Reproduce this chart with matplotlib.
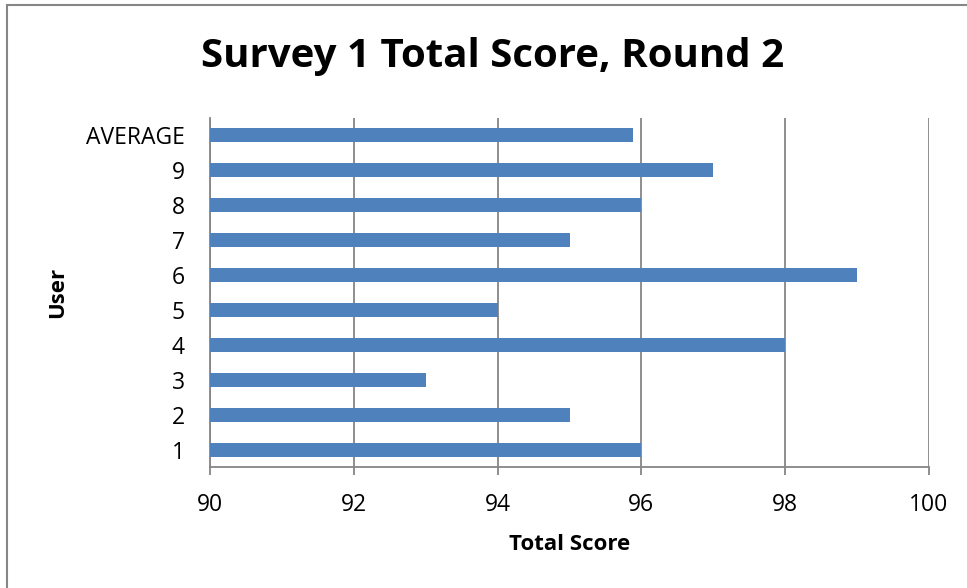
import matplotlib
matplotlib.use("Agg")
import matplotlib.pyplot as plt
from matplotlib.patches import Rectangle

categories = ["1", "2", "3", "4", "5", "6", "7", "8", "9", "AVERAGE"]
scores = [96, 95, 93, 98, 94, 99, 95, 96, 97, 95.89]
xticks = [90, 92, 94, 96, 98, 100]

plt.rcParams['font.family'] = ['Open Sans', 'DejaVu Sans']

W, H = 967, 588
fig = plt.figure(figsize=(W/100, H/100), dpi=100)
ax = fig.add_axes([210/W, 1-467/H, (929-210)/W, (467-118)/H])

y = range(len(categories))
ax.barh(y, scores, height=0.4, left=0, color="#4F81BD", zorder=3)
ax.set_xlim(90, 100)
ax.set_ylim(-0.5, len(categories)-0.5)
ax.set_xticks(xticks)
ax.set_xticklabels([str(t) for t in xticks], fontsize=16.5)
ax.set_yticks(list(y))
ax.set_yticklabels(categories, fontsize=16.5)
ax.xaxis.grid(True, color="#868686", linewidth=1.3, zorder=0)
for s in ["top", "right"]:
    ax.spines[s].set_visible(False)
ax.spines["left"].set_color("#868686")
ax.spines["bottom"].set_color("#868686")
ax.spines["left"].set_linewidth(1.3)
ax.spines["bottom"].set_linewidth(1.3)
ax.tick_params(axis="x", length=6, color="#868686", width=1.3, pad=13)
ax.tick_params(axis="y", length=0, pad=18)
ax.set_xlabel("Total Score", fontsize=16, fontweight="bold", va="center", ha="center")
ax.xaxis.set_label_coords(0.5, (467-545)/349)
ax.set_ylabel("User", fontsize=16, fontweight="bold", va="center", ha="center")
ax.yaxis.set_label_coords((58-210)/719, (467-292)/349)
fig.text(493/W, 1-57/H, "Survey 1 Total Score, Round 2", fontsize=29, fontweight="bold",
         ha="center", va="center")

fig.patches.append(Rectangle((7/W, -0.1), 1.2, 1-5/H+0.1, transform=fig.transFigure,
                             fill=False, edgecolor="#868686", linewidth=1.5))
fig.savefig("out.png", dpi=100)
